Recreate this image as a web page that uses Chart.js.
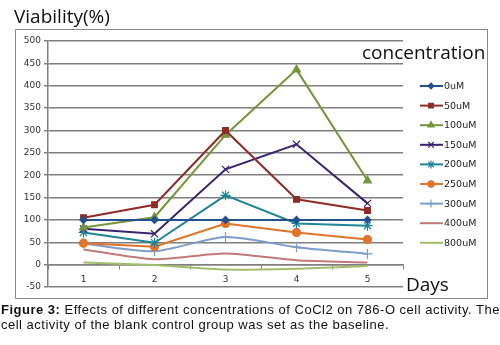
<!DOCTYPE html>
<html>
<head>
<meta charset="utf-8">
<script src="https://cdn.jsdelivr.net/npm/chart.js@4.4.1/dist/chart.umd.min.js"></script>
<style>
  body { margin: 0; background: #fff; }
  #wrap { position: relative; width: 500px; height: 345px; }
  #caption {
    position: absolute; left: 1px; top: 303px; width: 500px;
    font: 13px "Liberation Sans", Arial, sans-serif; letter-spacing: 0.5px;
    color: #111; line-height: 14.5px; white-space: nowrap;
  }
</style>
</head>
<body>
<div id="wrap">
  <canvas id="myChart" width="500" height="345"></canvas>
  <div id="caption"><b>Figure 3:</b> Effects of different concentrations of CoCl2 on 786-O cell activity. The<br>cell activity of the blank control group was set as the baseline.</div>
</div>
<script>
var days = ['1', '2', '3', '4', '5'];
var seriesNames = ['0uM', '50uM', '100uM', '150uM', '200uM', '250uM', '300uM', '400uM', '800uM'];
var v0 = [100, 100, 100, 100, 100];
var v50 = [105, 134, 300, 146, 121];
var v100 = [83, 106, 290, 436, 188];
var v150 = [80, 69, 213, 269, 137];
var v200 = [72, 49, 155, 92, 87];
var v250 = [48, 40, 92, 72, 56];
var v300 = [47, 30, 62, 39, 24];
var v400 = [34, 12, 25, 10, 5];
var v800 = [5, -1, -11, -9, -3];
var yTicks = { min: -50, max: 500, step: 50 };

var colors = ['#24508E', '#8F2B29', '#73963A', '#3A226E', '#1F8498', '#E0742A', '#7E9CCB', '#C27A78', '#A1BF6A'];
var markers = ['rectRot', 'rect', 'triangle', 'crossRot', 'star', 'circle', 'cross', false, false];
var sizes = [3.5, 4, 4.5, 5, 5, 4, 5, 0, 0];
var values = [v0, v50, v100, v150, v200, v250, v300, v400, v800];

var datasets = seriesNames.map(function (name, i) {
    return {
        label: name,
        data: values[i],
        borderColor: colors[i],
        backgroundColor: colors[i],
        borderWidth: 2,
        pointStyle: markers[i],
        pointRadius: sizes[i],
        pointBorderWidth: 1.2,
        tension: i >= 6 ? 0.25 : 0
    };
});

// frame, titles and Excel-like legend
var extras = {
    id: 'extras',
    beforeDraw: function (chart) {
        var c = chart.ctx;
        c.save();
        c.strokeStyle = '#8a8a8a';
        c.lineWidth = 1;
        c.strokeRect(15.5, 29.5, 472, 269);
        c.restore();
    },
    afterDraw: function (chart) {
        var c = chart.ctx;
        c.save();
        c.fillStyle = '#111';
        c.font = '19px "Open Sans", sans-serif';
        c.textBaseline = 'alphabetic';
        c.fillText('Viability(%)', 14, 23);
        c.fillText('concentration', 362, 59);
        c.fillText('Days', 406, 291);
        c.font = '9.5px "DejaVu Sans", sans-serif';
        c.textBaseline = 'middle';
        chart.data.datasets.forEach(function (ds, i) {
            var y = 86 + i * 19.6;
            c.strokeStyle = ds.borderColor;
            c.lineWidth = 2;
            c.beginPath();
            c.moveTo(420, y);
            c.lineTo(443, y);
            c.stroke();
            if (ds.pointStyle) {
                c.fillStyle = ds.backgroundColor;
                c.lineWidth = 1.2;
                Chart.helpers.drawPoint(c, { pointStyle: ds.pointStyle, radius: ds.pointRadius * 0.8, rotation: 0, borderWidth: 1.2 }, 431, y);
            }
            c.fillStyle = '#222';
            c.fillText(ds.label, 444, y + 0.5);
        });
        c.restore();
    }
};

var ctx = document.getElementById('myChart').getContext('2d');
var myChart = new Chart(ctx, {
    type: 'line',
    data: { labels: days, datasets: datasets },
    options: {
        responsive: false,
        animation: false,
        layout: { padding: { left: 16, top: 41, right: 97, bottom: 58 } },
        plugins: { legend: { display: false }, tooltip: { enabled: false } },
        scales: {
            x: {
                position: { y: 0 },
                offset: true,
                border: { color: '#808080', width: 1.5 },
                grid: { drawOnChartArea: false, offset: true, tickLength: 4, color: '#808080' },
                ticks: { color: '#333', font: { family: 'DejaVu Sans', size: 9 }, padding: 6, maxRotation: 0 }
            },
            y: {
                min: yTicks.min,
                max: yTicks.max,
                afterFit: function (s) { s.width = 32; },
                border: { color: '#808080', width: 1.5 },
                grid: { color: '#808080', lineWidth: 1.5, tickLength: 4 },
                ticks: { stepSize: yTicks.step, color: '#333', font: { family: 'DejaVu Sans', size: 9 }, padding: 3 }
            }
        }
    },
    plugins: [extras]
});
</script>
</body>
</html>
